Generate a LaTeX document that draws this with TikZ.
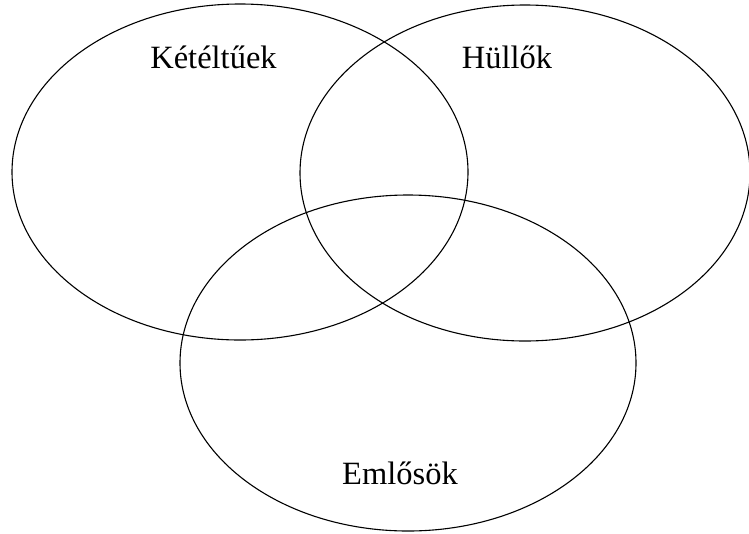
\documentclass[tikz,border=0pt]{standalone}
\usepackage{fontspec}
\setmainfont{Liberation Serif}
\usetikzlibrary{shapes.geometric}
\begin{document}
\begin{tikzpicture}[x=1pt,y=-1pt,
  setellipse/.style={draw=black,line width=1.1pt,ellipse,inner sep=0pt,minimum width=456pt,minimum height=336pt},
  setlabel/.style={anchor=base,inner sep=0pt,font=\fontsize{32.5}{38}\selectfont}]
\useasboundingbox (0,0) rectangle (749,533);
\node[setellipse] (amph) at (240,172) {};
\node[setellipse,minimum width=450pt] (rept) at (525,173) {};
\node[setellipse] (mamm) at (408,363) {};
\node[setlabel] (lamph) at (213.5,68) {Kétéltűek};
\node[setlabel] (lrept) at (507,68) {Hüllők};
\node[setlabel] (lmamm) at (400,484) {Emlősök};
\end{tikzpicture}
\end{document}
